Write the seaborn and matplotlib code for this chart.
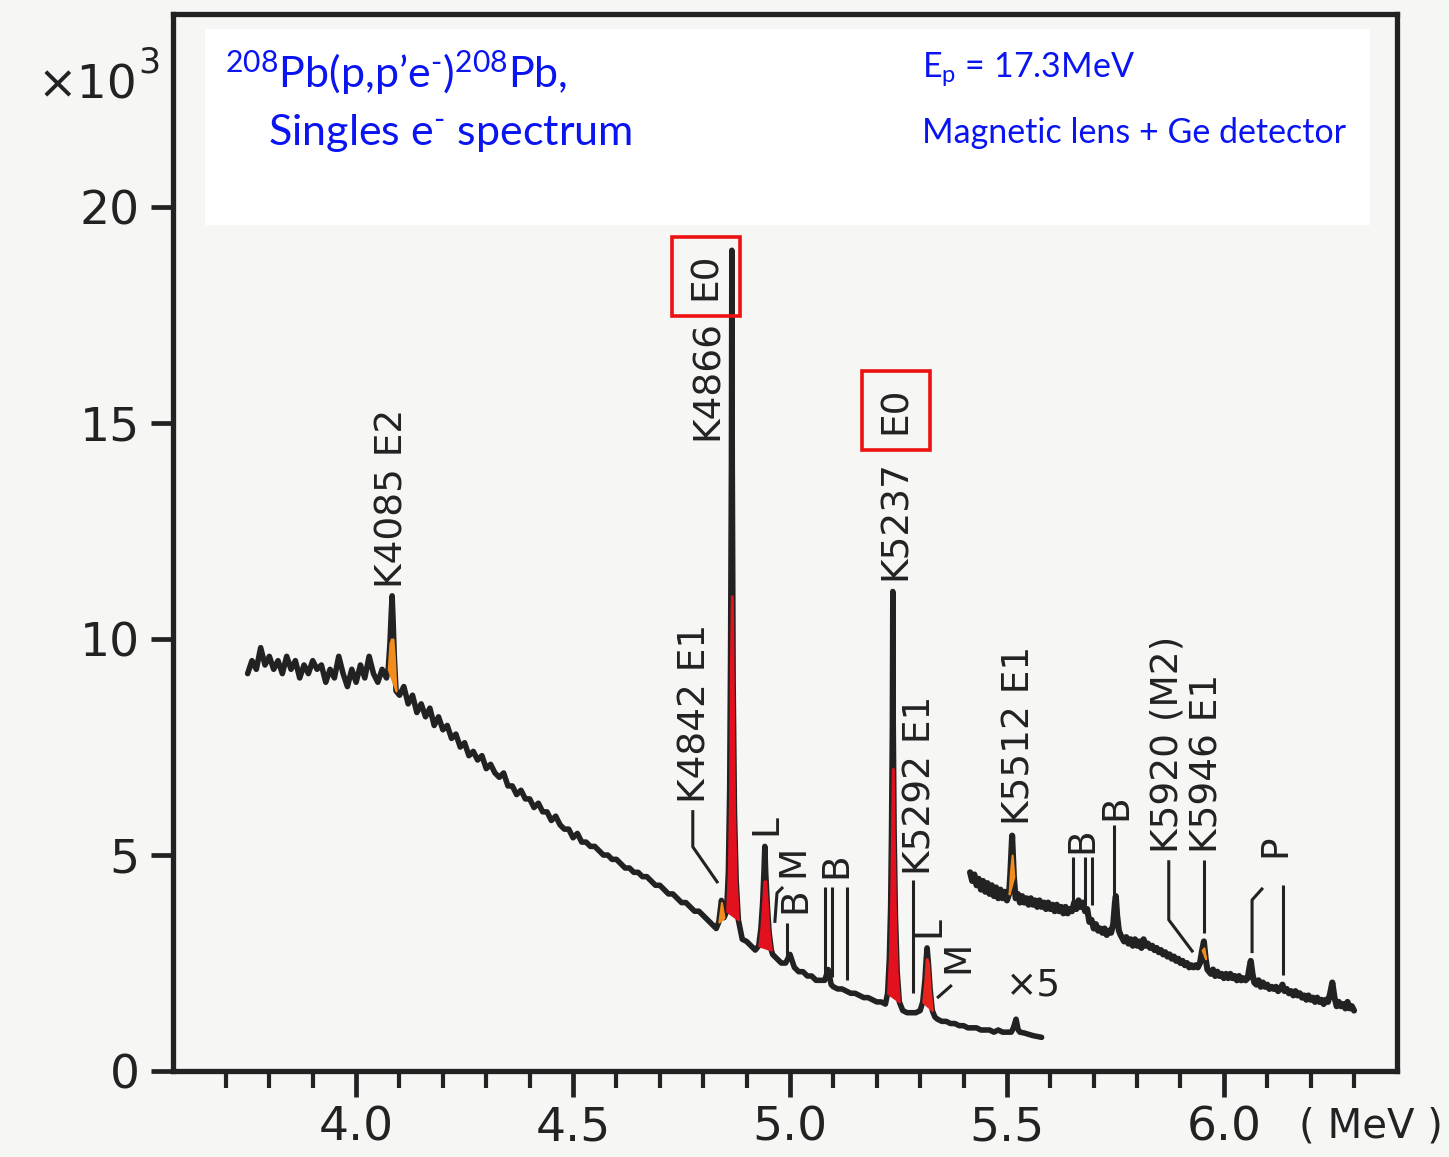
import numpy as np
import matplotlib
matplotlib.use("Agg")
import matplotlib.pyplot as plt
import seaborn as sns

# main spectrum: (energy in MeV, counts in 10^3)
main_pts = [
    (3.75, 9.2), (3.76, 9.5), (3.77, 9.3), (3.78, 9.8), (3.79, 9.4), (3.80, 9.6), (3.81, 9.3),
    (3.82, 9.5), (3.83, 9.2), (3.84, 9.6), (3.85, 9.3), (3.86, 9.5), (3.87, 9.1), (3.88, 9.4),
    (3.89, 9.2), (3.90, 9.5), (3.91, 9.3), (3.92, 9.4), (3.93, 9.0), (3.94, 9.3), (3.95, 9.1),
    (3.96, 9.6), (3.97, 9.2), (3.98, 8.9), (3.99, 9.3), (4.00, 9.0), (4.01, 9.4), (4.02, 9.1),
    (4.03, 9.6), (4.04, 9.2), (4.05, 9.0), (4.06, 9.3), (4.07, 9.1), (4.074, 9.3), (4.078, 9.9),
    (4.081, 10.6), (4.083, 11.0), (4.085, 10.5), (4.088, 9.6), (4.092, 8.8), (4.10, 8.7),
    (4.11, 8.9), (4.12, 8.5), (4.13, 8.7), (4.14, 8.3), (4.15, 8.5), (4.16, 8.2), (4.17, 8.4),
    (4.18, 8.0), (4.19, 8.2), (4.20, 7.9), (4.21, 8.0), (4.22, 7.7), (4.23, 7.8), (4.24, 7.5),
    (4.25, 7.6), (4.26, 7.3), (4.27, 7.4), (4.28, 7.2), (4.29, 7.3), (4.30, 7.0), (4.31, 7.1),
    (4.32, 6.9), (4.33, 6.8), (4.34, 6.9), (4.35, 6.6), (4.36, 6.6), (4.37, 6.4), (4.38, 6.5),
    (4.39, 6.3), (4.40, 6.3), (4.41, 6.1), (4.42, 6.2), (4.43, 6.0), (4.44, 6.0), (4.45, 5.8),
    (4.46, 5.9), (4.47, 5.7), (4.48, 5.6), (4.49, 5.6), (4.50, 5.4), (4.51, 5.5), (4.52, 5.3),
    (4.53, 5.3), (4.54, 5.2), (4.55, 5.2), (4.56, 5.1), (4.57, 5.0), (4.58, 5.0), (4.59, 4.9),
    (4.60, 4.9), (4.61, 4.8), (4.62, 4.7), (4.63, 4.7), (4.64, 4.6), (4.65, 4.6), (4.66, 4.5),
    (4.67, 4.5), (4.68, 4.4), (4.69, 4.3), (4.70, 4.3), (4.71, 4.2), (4.72, 4.1), (4.73, 4.1),
    (4.74, 4.0), (4.75, 3.9), (4.76, 3.9), (4.77, 3.8), (4.78, 3.7), (4.79, 3.7), (4.80, 3.6),
    (4.81, 3.5), (4.82, 3.4), (4.83, 3.3), (4.836, 3.45), (4.842, 3.95), (4.848, 3.55),
    (4.854, 3.7), (4.858, 4.6), (4.861, 6.5), (4.863, 9.5), (4.865, 14.0), (4.866, 19.0),
    (4.867, 14.0), (4.869, 9.0), (4.872, 6.0), (4.876, 4.4), (4.881, 3.5), (4.89, 3.05),
    (4.90, 3.0), (4.91, 2.9), (4.92, 2.8), (4.928, 2.9), (4.933, 3.3), (4.937, 3.9),
    (4.940, 4.6), (4.942, 5.2), (4.944, 4.6), (4.948, 3.8), (4.952, 3.2), (4.957, 2.8),
    (4.96, 2.7), (4.97, 2.6), (4.98, 2.5), (4.99, 2.5), (5.00, 2.7), (5.01, 2.4), (5.02, 2.3),
    (5.03, 2.3), (5.04, 2.2), (5.05, 2.2), (5.06, 2.1), (5.07, 2.1), (5.08, 2.1), (5.088, 2.35),
    (5.095, 2.0), (5.10, 1.95), (5.11, 1.9), (5.12, 1.9), (5.13, 1.85), (5.14, 1.8), (5.15, 1.8),
    (5.16, 1.75), (5.17, 1.7), (5.18, 1.7), (5.19, 1.65), (5.20, 1.6), (5.21, 1.6), (5.22, 1.55),
    (5.225, 1.8), (5.229, 2.6), (5.232, 3.8), (5.234, 5.5), (5.236, 8.0), (5.237, 11.1),
    (5.238, 8.0), (5.240, 5.5), (5.243, 3.6), (5.247, 2.3), (5.252, 1.6), (5.26, 1.4),
    (5.27, 1.35), (5.28, 1.35), (5.29, 1.35), (5.30, 1.4), (5.306, 1.6), (5.311, 2.1),
    (5.314, 2.6), (5.316, 2.85), (5.319, 2.5), (5.323, 1.9), (5.328, 1.4), (5.334, 1.25),
    (5.34, 1.2), (5.35, 1.15), (5.36, 1.15), (5.37, 1.1), (5.38, 1.1), (5.39, 1.05), (5.40, 1.05),
    (5.41, 1.0), (5.42, 1.0), (5.43, 1.0), (5.44, 0.95), (5.45, 0.95), (5.46, 0.95), (5.47, 0.9),
    (5.48, 0.95), (5.49, 0.9), (5.50, 0.9), (5.51, 0.9), (5.515, 1.0), (5.521, 1.2),
    (5.526, 0.95), (5.53, 0.9), (5.54, 0.88), (5.55, 0.85), (5.56, 0.82), (5.57, 0.8),
    (5.58, 0.78)]

# high-energy part, multiplied by 5
x5_pts = [
    (5.415, 4.6), (5.42, 4.4), (5.425, 4.55), (5.43, 4.3), (5.435, 4.45), (5.44, 4.2),
    (5.445, 4.4), (5.45, 4.15), (5.455, 4.35), (5.46, 4.1), (5.465, 4.3), (5.47, 4.05),
    (5.475, 4.25), (5.48, 4.0), (5.485, 4.2), (5.49, 4.0), (5.495, 4.15), (5.50, 3.95),
    (5.505, 4.1), (5.508, 4.6), (5.512, 5.45), (5.516, 4.5), (5.52, 4.0), (5.525, 4.1),
    (5.53, 3.9), (5.535, 4.05), (5.54, 3.9), (5.545, 4.0), (5.55, 3.85), (5.555, 4.0),
    (5.56, 3.85), (5.565, 3.95), (5.57, 3.8), (5.575, 3.95), (5.58, 3.8), (5.585, 3.9),
    (5.59, 3.75), (5.595, 3.9), (5.60, 3.75), (5.605, 3.85), (5.61, 3.7), (5.615, 3.85),
    (5.62, 3.7), (5.625, 3.8), (5.63, 3.65), (5.635, 3.8), (5.64, 3.65), (5.645, 3.75),
    (5.65, 3.7), (5.655, 3.9), (5.66, 3.75), (5.665, 3.95), (5.67, 3.8), (5.675, 3.9),
    (5.68, 3.7), (5.685, 3.75), (5.69, 3.45), (5.695, 3.5), (5.70, 3.3), (5.705, 3.4),
    (5.71, 3.25), (5.715, 3.3), (5.72, 3.2), (5.725, 3.3), (5.73, 3.15), (5.735, 3.25),
    (5.74, 3.2), (5.745, 3.4), (5.749, 3.9), (5.751, 4.05), (5.754, 3.6), (5.758, 3.25),
    (5.762, 3.15), (5.77, 3.0), (5.775, 3.1), (5.78, 2.95), (5.785, 3.05), (5.79, 2.9),
    (5.795, 3.05), (5.80, 2.9), (5.805, 3.0), (5.81, 2.85), (5.815, 3.05), (5.82, 2.9),
    (5.825, 2.95), (5.83, 2.85), (5.835, 2.9), (5.84, 2.8), (5.845, 2.85), (5.85, 2.75),
    (5.855, 2.8), (5.86, 2.7), (5.865, 2.75), (5.87, 2.65), (5.875, 2.7), (5.88, 2.6),
    (5.885, 2.65), (5.89, 2.55), (5.895, 2.6), (5.90, 2.5), (5.905, 2.55), (5.91, 2.45),
    (5.915, 2.5), (5.92, 2.4), (5.925, 2.45), (5.93, 2.4), (5.935, 2.45), (5.94, 2.4),
    (5.945, 2.5), (5.95, 2.8), (5.954, 3.0), (5.958, 2.6), (5.962, 2.35), (5.97, 2.25),
    (5.975, 2.35), (5.98, 2.2), (5.985, 2.3), (5.99, 2.2), (5.995, 2.25), (6.00, 2.15),
    (6.005, 2.25), (6.01, 2.15), (6.015, 2.25), (6.02, 2.15), (6.025, 2.2), (6.03, 2.1),
    (6.035, 2.2), (6.04, 2.1), (6.045, 2.15), (6.05, 2.1), (6.055, 2.15), (6.059, 2.4),
    (6.062, 2.55), (6.066, 2.25), (6.07, 2.05), (6.075, 2.0), (6.08, 2.1), (6.085, 1.95),
    (6.09, 2.05), (6.095, 1.95), (6.10, 2.0), (6.105, 1.9), (6.11, 1.95), (6.115, 1.9),
    (6.12, 1.95), (6.125, 1.85), (6.13, 1.9), (6.135, 2.0), (6.14, 1.85), (6.145, 1.9),
    (6.15, 1.8), (6.155, 1.85), (6.16, 1.75), (6.165, 1.85), (6.17, 1.75), (6.175, 1.8),
    (6.18, 1.7), (6.185, 1.75), (6.19, 1.65), (6.195, 1.75), (6.20, 1.65), (6.205, 1.7),
    (6.21, 1.6), (6.215, 1.7), (6.22, 1.6), (6.225, 1.65), (6.23, 1.55), (6.235, 1.65),
    (6.24, 1.6), (6.245, 1.8), (6.25, 2.05), (6.255, 1.7), (6.26, 1.5), (6.265, 1.6),
    (6.27, 1.5), (6.275, 1.55), (6.28, 1.45), (6.285, 1.6), (6.29, 1.45), (6.295, 1.5),
    (6.30, 1.4)]

main_e = [p[0] for p in main_pts]
main_k = [p[1] for p in main_pts]
x5_e = [p[0] for p in x5_pts]
x5_k = [p[1] for p in x5_pts]

# coloured peak areas
peak_src = ["main", "main", "main", "main", "main", "main", "x5", "x5"]
peak_lo = [4.074, 4.833, 4.854, 4.928, 5.222, 5.304, 5.504, 5.946]
peak_hi = [4.092, 4.850, 4.882, 4.957, 5.252, 5.330, 5.519, 5.961]
peak_cap = [10.0, 3.9, 11.0, 4.4, 7.0, 2.6, 5.0, 2.85]
peak_col = ["#f28c1c", "#f28c1c", "#e3101e", "#e3101e", "#e3101e", "#e8241c", "#f28c1c", "#f28c1c"]

# line labels: text, energy, bottom of text (10^3), boxed
lab_text = ["K4085 E2", "K4866", "E0", "K4842 E1", "L", "M", "B", "B", "K5237", "E0",
            "K5292 E1", "L", "M", "K5512 E1", "B", "B", "K5920 (M2)", "K5946 E1", "P"]
lab_e = [4.085, 4.811, 4.806, 4.783, 4.945, 5.007, 5.012, 5.106, 5.244, 5.244,
         5.300, 5.322, 5.389, 5.528, 5.673, 5.753, 5.869, 5.963, 6.118]
lab_k = [11.18, 14.6, 17.85, 6.2, 5.46, 4.49, 3.66, 4.46, 11.37, 14.75,
         4.54, 3.1, 2.27, 5.69, 5.05, 5.81, 5.05, 5.05, 4.95]
lab_box = [False, False, True, False, False, False, False, False, False, True,
           False, False, False, False, False, False, False, False, False]

# leader lines
lead_e = [[4.776, 4.776, 4.834], [4.965, 4.970, 4.984], [4.993, 4.993], [5.081, 5.081],
          [5.097, 5.097], [5.131, 5.131], [5.283, 5.283], [5.339, 5.373], [5.652, 5.652],
          [5.680, 5.680], [5.696, 5.696], [5.747, 5.747], [5.873, 5.873, 5.929],
          [5.954, 5.954], [6.065, 6.065, 6.090], [6.136, 6.136]]
lead_k = [[6.04, 5.19, 4.35], [3.43, 4.12, 4.26], [3.43, 2.64], [4.26, 2.18],
          [4.26, 2.18], [4.26, 2.1], [4.42, 1.8], [1.69, 1.99], [4.95, 3.84],
          [4.95, 3.84], [4.95, 3.84], [5.69, 3.96], [4.88, 3.5, 2.75],
          [4.88, 3.19], [2.73, 3.96, 4.24], [4.31, 2.22]]

xticks = [4.0, 4.5, 5.0, 5.5, 6.0]
yticks = [0, 5, 10, 15, 20]

sns.set_theme(style="white")
plt.rcParams["font.family"] = ["DejaVu Sans"]
plt.rcParams["mathtext.fontset"] = "custom"
plt.rcParams["mathtext.rm"] = "Lato"
plt.rcParams["mathtext.it"] = "Lato:italic"

ink = "#222222"
paper = "#f6f6f5"

fig = plt.figure(figsize=(14.49, 11.57), dpi=100, facecolor=paper)
ax = fig.add_axes([0.1194, 0.0743, 0.8447, 0.9136])
ax.set_facecolor(paper)

sns.lineplot(x=main_e, y=main_k, ax=ax, color=ink, lw=4.0, estimator=None, sort=False, zorder=2)
sns.lineplot(x=x5_e, y=x5_k, ax=ax, color=ink, lw=4.4, estimator=None, sort=False, zorder=2)

spectra = {"main": (np.asarray(main_e), np.asarray(main_k)),
           "x5": (np.asarray(x5_e), np.asarray(x5_k))}
for src, lo, hi, cap, col in zip(peak_src, peak_lo, peak_hi, peak_cap, peak_col):
    e, k = spectra[src]
    m = (e >= lo) & (e <= hi)
    es, ks = e[m], k[m]
    chord = np.interp(es, [es[0], es[-1]], [ks[0], ks[-1]])
    top = np.minimum(ks, cap)
    ax.fill_between(es, chord, top, where=top > chord, color=col, ec=col, lw=1.5,
                    zorder=3, interpolate=True)

for le, lk in zip(lead_e, lead_k):
    ax.plot(le, lk, color=ink, lw=2.2, solid_capstyle="butt", zorder=2)

for t, e, k, boxed in zip(lab_text, lab_e, lab_k, lab_box):
    kw = {}
    if boxed:
        kw["bbox"] = dict(boxstyle="square,pad=0.42", fc="none", ec="#ee1111", lw=2.6)
    ax.text(e, k, t, rotation=90, ha="center", va="bottom", fontsize=27, color=ink, **kw)

ax.text(5.560, 1.99, "×5", ha="center", va="center", fontsize=27, color=ink)

# white caption box
ax.add_patch(plt.Rectangle((0.026, 0.800), 0.952, 0.186, transform=ax.transAxes,
                           fc="white", ec="none", zorder=4))
blue = "#0a14f0"
fig.text(0.1553, 0.924, r"$^{208}$Pb(p,p’e$^{\text{-}}$)$^{208}$Pb,", fontsize=31, color=blue,
         family="Lato", va="baseline", zorder=5)
fig.text(0.185, 0.8747, r"Singles e$^{\text{-}}$ spectrum", fontsize=31, color=blue,
         family="Lato", va="baseline", zorder=5)
fig.text(0.6363, 0.9326, r"E$_{\mathrm{p}}$ = 17.3MeV", fontsize=24.5, color=blue,
         family="Lato", va="baseline", zorder=5)
fig.text(0.6363, 0.8764, "Magnetic lens + Ge detector", fontsize=24.5, color=blue,
         family="Lato", va="baseline", zorder=5)

ax.set_xlim(3.578, 6.399)
ax.set_ylim(0, 24.47)
ax.set_xticks(xticks)
ax.set_xticklabels([f"{v:.1f}" for v in xticks])
ax.set_xticks([3.7, 3.8, 3.9, 4.1, 4.2, 4.3, 4.4, 4.6, 4.7, 4.8, 4.9, 5.1, 5.2, 5.3, 5.4,
               5.6, 5.7, 5.8, 5.9, 6.1, 6.2, 6.3], minor=True)
ax.set_yticks(yticks)
ax.set_yticklabels([str(v) for v in yticks])
ax.tick_params(axis="x", which="major", direction="out", length=19, width=3.4,
               labelsize=34, pad=6, colors=ink, bottom=True)
ax.tick_params(axis="x", which="minor", direction="out", length=12, width=3.0,
               colors=ink, bottom=True)
ax.tick_params(axis="y", which="major", direction="out", length=16, width=3.4,
               labelsize=34, pad=8, colors=ink, left=True)
for s in ax.spines.values():
    s.set_linewidth(3.8)
    s.set_color(ink)
ax.set_xlabel("")
ax.set_ylabel("")

fig.text(0.026, 0.915, "×10", fontsize=34, color=ink, va="baseline")
fig.text(0.0955, 0.937, "3", fontsize=25, color=ink, va="baseline")
fig.text(0.996, 0.026, "( MeV )", fontsize=29, color=ink, ha="right", va="center")

fig.savefig("out.png", dpi=100, facecolor=paper)
